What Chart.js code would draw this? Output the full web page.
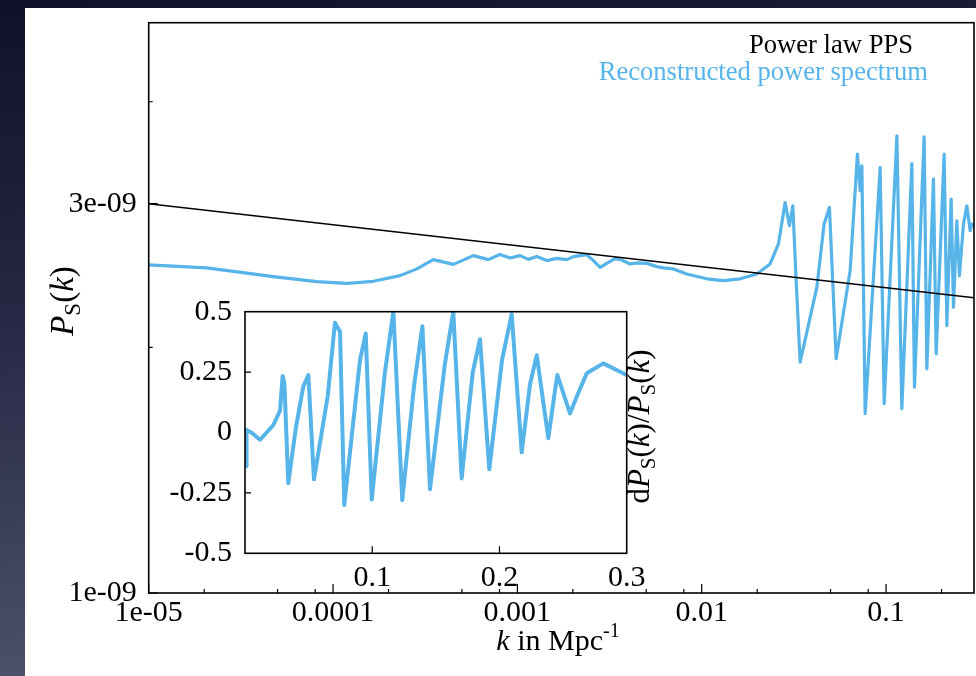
<!DOCTYPE html>
<html>
<head>
<meta charset="utf-8">
<script src="https://cdn.jsdelivr.net/npm/chart.js@4.4.0/dist/chart.umd.min.js"></script>
<style>
  html, body { margin:0; padding:0; width:976px; height:676px; overflow:hidden; }
  body { background: linear-gradient(172deg, #101128 0%, #262845 40%, #4a4d68 80%, #5c5f77 100%); position:relative; }
  #panel { position:absolute; left:25px; top:8px; width:951px; height:668px; background:#ffffff; }
  #main { position:absolute; left:0; top:0; }
  #inset { position:absolute; left:150px; top:290px; }
</style>
</head>
<body>
<div id="panel"></div>
<canvas id="main" width="976" height="676"></canvas>
<canvas id="inset" width="530" height="302"></canvas>
<script>
// ---------------- data ----------------
const kRecon = [1.0e-5, 2.06e-5, 4.74e-5, 8.16e-5, 1.187e-4, 1.655e-4, 2.31e-4, 2.85e-4, 3.50e-4, 4.50e-4,
  5.77e-4, 6.96e-4, 8.05e-4, 9.13e-4, 1.034e-3, 1.147e-3, 1.274e-3, 1.443e-3, 1.636e-3, 1.854e-3,
  2.013e-3, 2.379e-3, 2.585e-3, 2.810e-3, 3.056e-3, 3.389e-3, 3.685e-3, 4.088e-3, 4.445e-3, 5.036e-3,
  5.707e-3, 6.197e-3, 7.02e-3, 8.30e-3, 1.066e-2, 1.311e-2, 1.616e-2, 1.991e-2, 2.350e-2, 2.608e-2,
  2.835e-2, 2.992e-2, 3.121e-2, 3.253e-2, 3.420e-2, 4.212e-2, 4.614e-2, 4.930e-2, 5.362e-2, 6.386e-2,
  6.996e-2, 7.237e-2, 7.392e-2, 7.703e-2, 9.290e-2, 9.766e-2, 0.1145, 0.1218, 0.1380, 0.1426,
  0.1609, 0.1665, 0.1808, 0.1870, 0.2066, 0.2137, 0.2255, 0.2321, 0.2421, 0.2502,
  0.2630, 0.2744, 0.2860, 0.2921, 0.3];
const pRecon = [2.524e-9, 2.503e-9, 2.442e-9, 2.408e-9, 2.396e-9, 2.410e-9, 2.449e-9, 2.496e-9, 2.562e-9, 2.528e-9,
  2.591e-9, 2.562e-9, 2.600e-9, 2.574e-9, 2.591e-9, 2.564e-9, 2.584e-9, 2.555e-9, 2.571e-9, 2.562e-9,
  2.584e-9, 2.598e-9, 2.555e-9, 2.507e-9, 2.535e-9, 2.569e-9, 2.559e-9, 2.531e-9, 2.538e-9, 2.535e-9,
  2.512e-9, 2.503e-9, 2.496e-9, 2.460e-9, 2.427e-9, 2.415e-9, 2.427e-9, 2.460e-9, 2.531e-9, 2.678e-9,
  3.010e-9, 2.820e-9, 2.982e-9, 2.415e-9, 1.919e-9, 2.369e-9, 2.833e-9, 2.969e-9, 1.937e-9, 2.484e-9,
  3.451e-9, 3.112e-9, 3.339e-9, 1.659e-9, 3.323e-9, 1.706e-9, 3.634e-9, 1.682e-9, 3.360e-9, 1.788e-9,
  3.624e-9, 1.883e-9, 3.216e-9, 1.964e-9, 3.451e-9, 2.127e-9, 3.040e-9, 2.240e-9, 2.859e-9, 2.449e-9,
  2.833e-9, 2.982e-9, 2.780e-9, 2.833e-9, 2.820e-9];

const kPowerLaw = [1e-5, 0.3];
const pPowerLaw = [3.0e-9, 2.30e-9];

const kInset = [0.0008, 0.0012, 0.005, 0.0118, 0.0222, 0.0275, 0.0296, 0.0310, 0.0340, 0.0400,
  0.0458, 0.0498, 0.0542, 0.0650, 0.0707, 0.0747, 0.0780, 0.0904, 0.0949, 0.0996,
  0.1100, 0.1166, 0.1236, 0.1330, 0.1394, 0.1454, 0.1570, 0.1637, 0.1703, 0.1790,
  0.1847, 0.1920, 0.2020, 0.2096, 0.2175, 0.2240, 0.2293, 0.2384, 0.2430, 0.2455,
  0.2554, 0.2607, 0.2686, 0.2816, 0.3000];
const dInset = [-0.14, 0.01, 0.0, -0.03, 0.03, 0.09, 0.234, 0.20, -0.21, 0.02,
  0.19, 0.238, -0.194, 0.15, 0.454, 0.417, -0.30, 0.30, 0.41, -0.277,
  0.25, 0.50, -0.28, 0.20, 0.44, -0.235, 0.28, 0.50, -0.19, 0.25,
  0.386, -0.152, 0.30, 0.49, -0.082, 0.20, 0.32, -0.024, 0.15, 0.238,
  0.079, 0.148, 0.245, 0.286, 0.238];

const seriesLabels = ['Power law PPS', 'Reconstructed power spectrum'];

const xTickValues = [1e-5, 1e-4, 1e-3, 1e-2, 1e-1];
const xTickLabels = ['1e-05', '0.0001', '0.001', '0.01', '0.1'];
const xMinorTicks = [2e-5, 5e-5, 8e-5, 2e-4, 5e-4, 8e-4, 2e-3, 5e-3, 8e-3, 2e-2, 5e-2, 8e-2, 2e-1];
const yTickValues = [1e-9, 3e-9];
const yTickLabels = ['1e-09', '3e-09'];
const yMinorTicks = [2e-9, 4e-9];

const insetXTicks = [0.1, 0.2, 0.3];
const insetXLabels = ['0.1', '0.2', '0.3'];
const insetYTicks = [-0.5, -0.25, 0, 0.25, 0.5];
const insetYLabels = ['-0.5', '-0.25', '0', '0.25', '0.5'];

// ---------------- styling ----------------
const FONT = '"Liberation Serif", "Times New Roman", serif';
const BLUE = '#56b4e9';
const BLACK = '#000000';

function richText(ctx, parts, x, y) {
  let total = 0;
  parts.forEach(p => {
    ctx.font = (p.italic ? 'italic ' : '') + p.size + 'px ' + FONT;
    p.w = ctx.measureText(p.t).width;
    total += p.w;
  });
  let cx = x - total / 2;
  ctx.textAlign = 'left';
  ctx.textBaseline = 'alphabetic';
  parts.forEach(p => {
    ctx.font = (p.italic ? 'italic ' : '') + p.size + 'px ' + FONT;
    ctx.fillText(p.t, cx, y + (p.dy || 0));
    cx += p.w;
  });
}

function zeroPad(s) { s.paddingTop = 0; s.paddingBottom = 0; }

const mainDecor = {
  id: 'mainDecor',
  afterDraw(chart) {
    const { ctx, chartArea: a, scales } = chart;
    const x = scales.x, y = scales.y;
    ctx.save();
    ctx.strokeStyle = BLACK;
    ctx.lineWidth = 1.6;
    ctx.strokeRect(a.left, a.top, a.right - a.left, a.bottom - a.top);
    ctx.lineWidth = 1.2;
    ctx.beginPath();
    xTickValues.forEach(v => { const p = x.getPixelForValue(v); ctx.moveTo(p, a.bottom); ctx.lineTo(p, a.bottom - 9); });
    xMinorTicks.forEach(v => { const p = x.getPixelForValue(v); ctx.moveTo(p, a.bottom); ctx.lineTo(p, a.bottom - 4); });
    yTickValues.forEach(v => { const p = y.getPixelForValue(v); ctx.moveTo(a.left, p); ctx.lineTo(a.left + 9, p); });
    yMinorTicks.forEach(v => { const p = y.getPixelForValue(v); ctx.moveTo(a.left, p); ctx.lineTo(a.left + 4, p); });
    ctx.stroke();

    // key
    ctx.font = '26.6px ' + FONT;
    ctx.textAlign = 'right';
    ctx.textBaseline = 'alphabetic';
    const keyRight = [913, 928];
    const keyBase = [53, 80];
    chart.data.datasets.forEach((ds, i) => {
      ctx.fillStyle = ds.borderColor;
      ctx.fillText(ds.label, keyRight[i], keyBase[i]);
    });

    // x title
    ctx.fillStyle = BLACK;
    richText(ctx, [
      { t: 'k', italic: true, size: 30 },
      { t: ' in Mpc', size: 30 },
      { t: '-1', size: 20, dy: -13 }
    ], 558, 650);

    // y title (rotated)
    ctx.save();
    ctx.translate(62, 301);
    ctx.rotate(-Math.PI / 2);
    richText(ctx, [
      { t: 'P', italic: true, size: 33 },
      { t: 'S', size: 23, dy: 7 },
      { t: '(', size: 33 },
      { t: 'k', italic: true, size: 33 },
      { t: ')', size: 33 }
    ], 0, 11);
    ctx.restore();
    ctx.restore();
  }
};

const insetDecor = {
  id: 'insetDecor',
  beforeDatasetsDraw(chart) {
    const { ctx, chartArea: a } = chart;
    ctx.save();
    ctx.fillStyle = '#ffffff';
    ctx.fillRect(a.left, a.top, a.right - a.left, a.bottom - a.top);
    ctx.restore();
  },
  afterDraw(chart) {
    const { ctx, chartArea: a, scales } = chart;
    const x = scales.x, y = scales.y;
    ctx.save();
    ctx.strokeStyle = BLACK;
    ctx.lineWidth = 1.6;
    ctx.strokeRect(a.left, a.top, a.right - a.left, a.bottom - a.top);
    ctx.lineWidth = 1.2;
    ctx.beginPath();
    [0.1, 0.2].forEach(v => { const p = x.getPixelForValue(v); ctx.moveTo(p, a.bottom); ctx.lineTo(p, a.bottom - 7); });
    [0.25, -0.25].forEach(v => { const p = y.getPixelForValue(v); ctx.moveTo(a.left, p); ctx.lineTo(a.left + 6, p); });
    ctx.stroke();

    // right-side title (rotated)
    ctx.fillStyle = BLACK;
    ctx.translate(a.right + 12, (a.top + a.bottom) / 2 - 6);
    ctx.rotate(-Math.PI / 2);
    richText(ctx, [
      { t: 'd', size: 31 },
      { t: 'P', italic: true, size: 31 },
      { t: 'S', size: 21, dy: 6 },
      { t: '(', size: 31 },
      { t: 'k', italic: true, size: 31 },
      { t: ')/', size: 31 },
      { t: 'P', italic: true, size: 31 },
      { t: 'S', size: 21, dy: 6 },
      { t: '(', size: 31 },
      { t: 'k', italic: true, size: 31 },
      { t: ')', size: 31 }
    ], 0, 10);
    ctx.restore();
  }
};

// ---------------- main chart ----------------
new Chart(document.getElementById('main'), {
  type: 'line',
  data: {
    datasets: [
      {
        label: seriesLabels[0],
        data: kPowerLaw.map((k, i) => ({ x: k, y: pPowerLaw[i] })),
        borderColor: BLACK, borderWidth: 1.5, pointRadius: 0, tension: 0, fill: false
      },
      {
        label: seriesLabels[1],
        data: kRecon.map((k, i) => ({ x: k, y: pRecon[i] })),
        borderColor: BLUE, borderWidth: 3.2, pointRadius: 0, tension: 0, fill: false,
        borderJoinStyle: 'round', borderCapStyle: 'round'
      }
    ]
  },
  options: {
    responsive: false,
    animation: false,
    devicePixelRatio: 1,
    layout: { padding: { left: 0, right: 2, top: 22.7, bottom: 0 } },
    plugins: { legend: { display: false }, tooltip: { enabled: false } },
    scales: {
      x: {
        type: 'logarithmic', min: 1e-5, max: 0.3,
        afterBuildTicks: s => { s.ticks = xTickValues.map(v => ({ value: v })); },
        afterFit: s => { s.height = 83; s.paddingLeft = 0; s.paddingRight = 0; },
        grid: { display: false, drawTicks: false },
        border: { display: false },
        ticks: {
          autoSkip: false, maxRotation: 0, minRotation: 0, padding: 2,
          color: BLACK, font: { family: FONT, size: 30 },
          callback: (v, i) => xTickLabels[i]
        }
      },
      y: {
        type: 'logarithmic', min: 1e-9, max: 5e-9,
        afterBuildTicks: s => { s.ticks = yTickValues.map(v => ({ value: v })); },
        afterFit: s => { s.width = 148.7; zeroPad(s); },
        grid: { display: false, drawTicks: false },
        border: { display: false },
        ticks: {
          autoSkip: false, padding: 12,
          color: BLACK, font: { family: FONT, size: 30 },
          callback: (v, i) => yTickLabels[i]
        }
      }
    }
  },
  plugins: [mainDecor]
});

// ---------------- inset chart ----------------
new Chart(document.getElementById('inset'), {
  type: 'line',
  data: {
    datasets: [{
      label: 'dP/P',
      data: kInset.map((k, i) => ({ x: k, y: dInset[i] })),
      borderColor: BLUE, borderWidth: 4, pointRadius: 0, tension: 0, fill: false,
      borderJoinStyle: 'round'
    }]
  },
  options: {
    responsive: false,
    animation: false,
    devicePixelRatio: 1,
    layout: { padding: { left: 0, right: 53.3, top: 21.7, bottom: 0 } },
    plugins: { legend: { display: false }, tooltip: { enabled: false } },
    scales: {
      x: {
        type: 'linear', min: 0, max: 0.3,
        afterBuildTicks: s => { s.ticks = insetXTicks.map(v => ({ value: v })); },
        afterFit: s => { s.height = 38.7; s.paddingLeft = 0; s.paddingRight = 0; },
        grid: { display: false, drawTicks: false },
        border: { display: false },
        ticks: {
          autoSkip: false, maxRotation: 0, minRotation: 0, padding: 7,
          color: BLACK, font: { family: FONT, size: 30 },
          callback: (v, i) => insetXLabels[i]
        }
      },
      y: {
        type: 'linear', min: -0.5, max: 0.5,
        afterBuildTicks: s => { s.ticks = insetYTicks.map(v => ({ value: v })); },
        afterFit: s => { s.width = 95; zeroPad(s); },
        grid: { display: false, drawTicks: false },
        border: { display: false },
        ticks: {
          autoSkip: false, padding: 13,
          color: BLACK, font: { family: FONT, size: 30 },
          callback: (v, i) => insetYLabels[i]
        }
      }
    }
  },
  plugins: [insetDecor]
});
</script>
</body>
</html>
